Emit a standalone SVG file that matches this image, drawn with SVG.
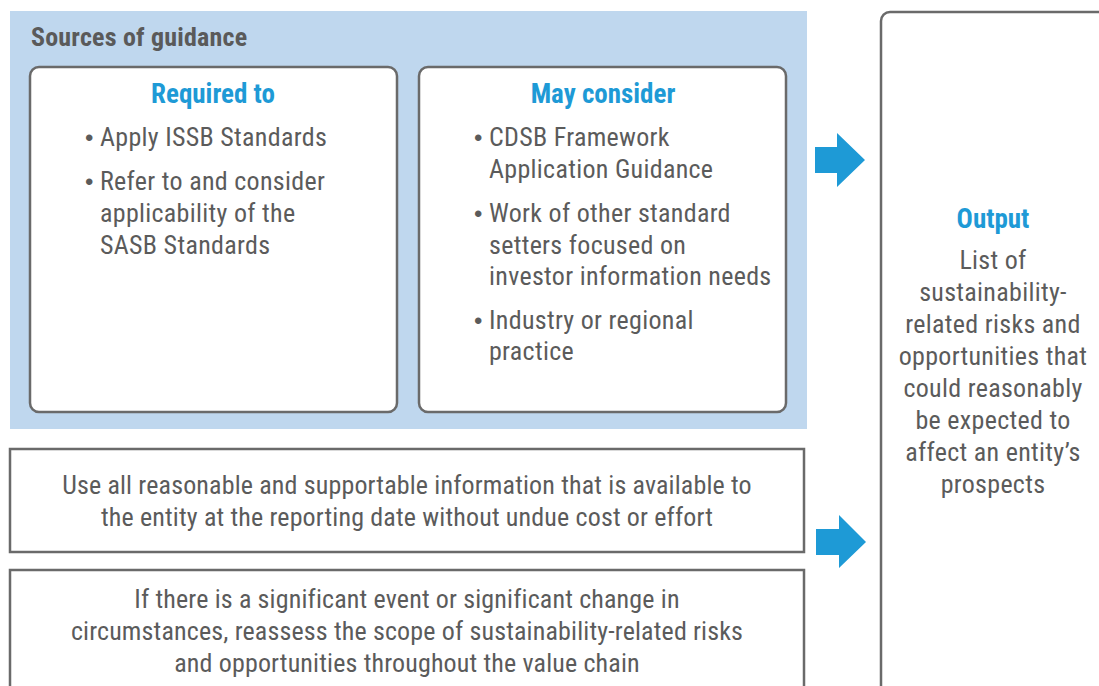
<svg xmlns="http://www.w3.org/2000/svg" width="1099" height="686" viewBox="0 0 1099 686">
<style>
.t{font-family:"Liberation Sans Narrow","Roboto Condensed","Liberation Sans",sans-serif;font-size:26px;letter-spacing:0.3px;fill:#5b5b5b}
.w{letter-spacing:0.15px}
.h{font-family:"Liberation Sans Narrow","Roboto Condensed","Liberation Sans",sans-serif;font-size:27px;font-weight:bold;fill:#1E9AD6}
.c{text-anchor:middle}
.b{font-family:"Liberation Sans",sans-serif;font-size:24px;letter-spacing:0}
.box{fill:#fff;stroke:#6a6a6a;stroke-width:2.5}
.arr{fill:#1E9AD6}
</style>
<rect width="1099" height="686" fill="#fff"/>
<g id="sources">
<rect x="10" y="11" width="797" height="418" fill="#BFD7EE"/>
<text x="31" y="46" class="t" style="font-weight:bold;font-size:26px;letter-spacing:0.2px;fill:#5a5a5a">Sources of guidance</text>
</g>
<g id="required">
<rect class="box" x="30" y="67" width="367" height="345" rx="9"/>
<text x="213" y="103" class="h c">Required to</text>
<text class="t"><tspan x="85" y="146" class="b">•</tspan><tspan x="100" y="146">Apply ISSB Standards</tspan></text>
<text class="t"><tspan x="85" y="190" class="b">•</tspan><tspan x="100" y="190">Refer to and consider</tspan><tspan x="100" y="222">applicability of the</tspan><tspan x="100" y="254">SASB Standards</tspan></text>
</g>
<g id="may">
<rect class="box" x="419" y="67" width="367" height="345" rx="9"/>
<text x="603" y="103" class="h c">May consider</text>
<text class="t"><tspan x="474" y="146" class="b">•</tspan><tspan x="489" y="146">CDSB Framework</tspan><tspan x="489" y="178">Application Guidance</tspan></text>
<text class="t"><tspan x="474" y="222" class="b">•</tspan><tspan x="489" y="222">Work of other standard</tspan><tspan x="489" y="254">setters focused on</tspan><tspan x="489" y="285">investor information needs</tspan></text>
<text class="t"><tspan x="474" y="329" class="b">•</tspan><tspan x="489" y="329">Industry or regional</tspan><tspan x="489" y="360">practice</tspan></text>
</g>
<g id="info">
<rect class="box" x="10" y="449" width="794" height="103"/>
<text class="t c w"><tspan x="407" y="494">Use all reasonable and supportable information that is available to</tspan><tspan x="407" y="526">the entity at the reporting date without undue cost or effort</tspan></text>
</g>
<g id="reassess">
<rect class="box" x="10" y="570" width="794" height="130"/>
<text class="t c w"><tspan x="407" y="608">If there is a significant event or significant change in</tspan><tspan x="407" y="640">circumstances, reassess the scope of sustainability-related risks</tspan><tspan x="407" y="672">and opportunities throughout the value chain</tspan></text>
</g>
<g id="output">
<rect class="box" x="881" y="12" width="240" height="690" rx="9"/>
<text x="993" y="228" class="h c">Output</text>
<text class="t c"><tspan x="993" y="269">List of</tspan><tspan x="993" y="301">sustainability-</tspan><tspan x="993" y="333">related risks and</tspan><tspan x="993" y="365">opportunities that</tspan><tspan x="993" y="397">could reasonably</tspan><tspan x="993" y="429">be expected to</tspan><tspan x="993" y="461">affect an entity’s</tspan><tspan x="993" y="493">prospects</tspan></text>
</g>
<g id="connectors">
<polygon class="arr" points="815,147 837,147 837,133 865,160 837,187 837,173 815,173"/>
<polygon class="arr" points="816,529 839,529 839,515 866,542 839,568 839,555 816,555"/>
</g>
</svg>
